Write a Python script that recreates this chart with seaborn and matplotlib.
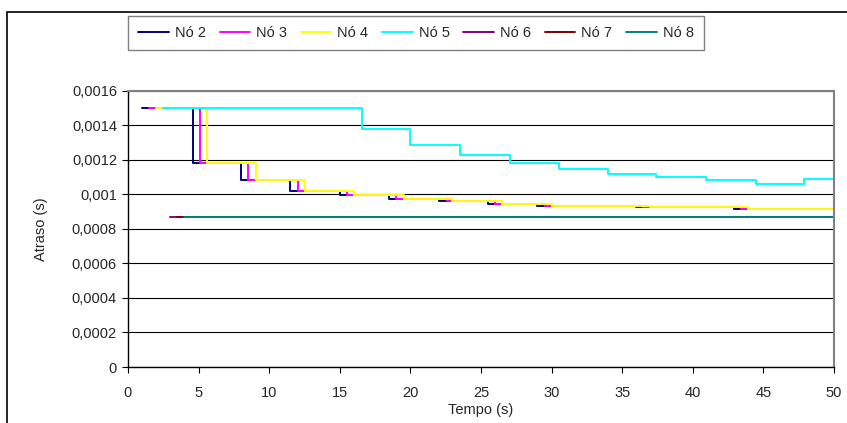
"""Atraso por nó ao longo do tempo (step lines)."""

import matplotlib

matplotlib.use("Agg")
import matplotlib.pyplot as plt
import numpy as np
import pandas as pd
import seaborn as sns
from matplotlib.patches import Rectangle
from matplotlib.ticker import FuncFormatter, MultipleLocator

# step start times (s) and delay values (s) per node
NODES = ["Nó 2", "Nó 3", "Nó 4", "Nó 5", "Nó 6", "Nó 7", "Nó 8"]
COLORS = ["#000080", "#FF00FF", "#FFFF00", "#00FFFF", "#800080", "#800000", "#008080"]

t_no2 = [1.0, 4.58, 8.0, 11.5, 15.0, 18.5, 22.0, 25.5, 29.0, 36.0, 42.9, 50.0]
t_no3 = [1.5, 5.1, 8.5, 12.06, 15.5, 19.0, 22.6, 26.0, 29.5, 36.5, 43.4, 50.0]
t_no4 = [2.0, 5.57, 9.06, 12.5, 16.0, 19.54, 22.97, 26.5, 30.0, 37.0, 43.9, 50.0]
d_no234 = [0.0015, 0.00118, 0.00108, 0.00102, 0.000995, 0.00097, 0.00096,
           0.000942, 0.000932, 0.000925, 0.000915, 0.000915]

t_no5 = [2.5, 16.55, 20.0, 23.5, 27.05, 30.5, 34.0, 37.4, 40.9, 44.5, 47.9, 50.0]
d_no5 = [0.0015, 0.001376, 0.001285, 0.001229, 0.001183, 0.001146, 0.001117,
         0.0011, 0.001083, 0.001062, 0.00109, 0.00109]

t_no6 = [3.0, 50.0]
t_no7 = [3.5, 50.0]
t_no8 = [4.0, 50.0]
d_no678 = [0.00087, 0.00087]

series = [
    (t_no2, d_no234), (t_no3, d_no234), (t_no4, d_no234), (t_no5, d_no5),
    (t_no6, d_no678), (t_no7, d_no678), (t_no8, d_no678),
]
df = pd.concat(
    [pd.DataFrame({"tempo": t, "atraso": d, "no": name})
     for name, (t, d) in zip(NODES, series)],
    ignore_index=True,
)

sns.set_theme(style="white")
plt.rcParams["font.family"] = ["Liberation Sans", "DejaVu Sans"]
plt.rcParams["font.size"] = 10.5

fig = plt.figure(figsize=(8.47, 4.23), dpi=100)
ax = fig.add_axes([128 / 847, 1 - 367 / 423, (834 - 128) / 847, (367 - 90.7) / 423])

sns.lineplot(
    data=df, x="tempo", y="atraso", hue="no", hue_order=NODES, palette=COLORS,
    estimator=None, sort=False, drawstyle="steps-post", linewidth=1.4,
    legend=False, ax=ax,
)

ax.set_xlim(0, 50)
ax.set_ylim(0, 0.0016)
ax.xaxis.set_major_locator(MultipleLocator(5))
ax.yaxis.set_major_locator(MultipleLocator(0.0002))
ax.yaxis.set_major_formatter(
    FuncFormatter(lambda v, _: f"{v:.6g}".replace(".", ","))
)
ax.grid(axis="y", color="black", linewidth=0.8)
ax.set_axisbelow(True)
ax.tick_params(axis="both", which="major", direction="out", length=4,
               width=0.8, color="black", labelsize=10.5, left=True, bottom=True)
ax.tick_params(axis="x", pad=10)
ax.tick_params(axis="y", pad=4)
for side in ["left", "bottom"]:
    ax.spines[side].set_color("black")
    ax.spines[side].set_linewidth(1.0)
for side in ["top", "right"]:
    ax.spines[side].set_color("#808080")
    ax.spines[side].set_linewidth(1.5)

ax.set_xlabel("Tempo (s)", fontsize=10.5, labelpad=2)
ax.set_ylabel("Atraso (s)", fontsize=10.5, labelpad=17)

handles = ax.lines[: len(NODES)]
leg = fig.legend(
    handles, NODES, loc="upper left", bbox_to_anchor=(128 / 847, 1 - 15.7 / 423),
    ncol=7, frameon=True, fancybox=False, framealpha=1, fontsize=10.5,
    handlelength=2.1, handletextpad=0.4, columnspacing=0.95, borderpad=0.7,
    borderaxespad=0,
)
leg.get_frame().set_edgecolor("#808080")
leg.get_frame().set_linewidth(1.0)

# outer chart frame (cropped on the right and bottom)
fig.patches.append(Rectangle(
    (7 / 847, -0.2), 1.5, 1.2 - 12 / 423, transform=fig.transFigure,
    fill=False, edgecolor="black", linewidth=1.2, clip_on=False,
))

fig.savefig("out.png", dpi=100)
